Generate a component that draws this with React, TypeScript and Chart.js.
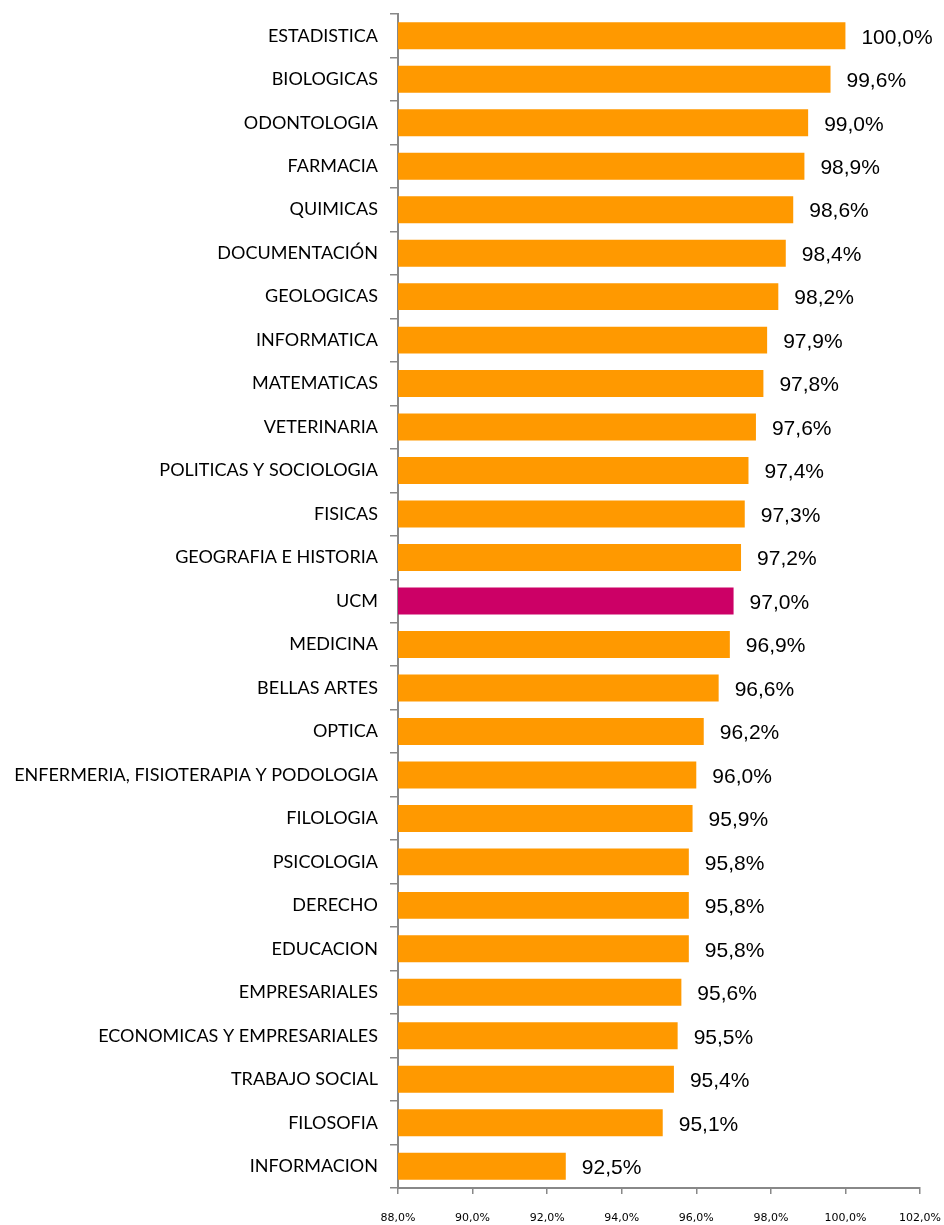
import React, { useEffect, useRef } from "react";
import { Chart, registerables } from "chart.js";

Chart.register(...registerables);

const categories = [
  "ESTADISTICA", "BIOLOGICAS", "ODONTOLOGIA", "FARMACIA", "QUIMICAS", "DOCUMENTACIÓN",
  "GEOLOGICAS", "INFORMATICA", "MATEMATICAS", "VETERINARIA", "POLITICAS Y SOCIOLOGIA",
  "FISICAS", "GEOGRAFIA E HISTORIA", "UCM", "MEDICINA", "BELLAS ARTES", "OPTICA",
  "ENFERMERIA, FISIOTERAPIA Y PODOLOGIA", "FILOLOGIA", "PSICOLOGIA", "DERECHO",
  "EDUCACION", "EMPRESARIALES", "ECONOMICAS Y EMPRESARIALES", "TRABAJO SOCIAL",
  "FILOSOFIA", "INFORMACION",
];

const values = [
  100.0, 99.6, 99.0, 98.9, 98.6, 98.4, 98.2, 97.9, 97.8, 97.6, 97.4, 97.3, 97.2, 97.0,
  96.9, 96.6, 96.2, 96.0, 95.9, 95.8, 95.8, 95.8, 95.6, 95.5, 95.4, 95.1, 92.5,
];

const highlightCategory = "UCM";
const xMin = 88;
const xMax = 102;
const xStep = 2;

const fmt = (v: number, d: number) => v.toFixed(d).replace(".", ",") + "%";

const valueLabels = {
  id: "valueLabels",
  afterDatasetsDraw(chart: any) {
    const ctx = chart.ctx;
    const meta = chart.getDatasetMeta(0);
    ctx.save();
    ctx.font = "21px 'Liberation Sans', Arial, sans-serif";
    ctx.fillStyle = "#000";
    ctx.textAlign = "left";
    ctx.textBaseline = "middle";
    meta.data.forEach((bar: any, i: number) => {
      ctx.fillText(fmt(values[i], 1), bar.x + 16, bar.y + 2);
    });
    ctx.restore();
  },
};

export default function App() {
  const ref = useRef<HTMLCanvasElement>(null);
  useEffect(() => {
    if (!ref.current) return;
    const chart = new Chart(ref.current, {
      type: "bar",
      data: {
        labels: categories,
        datasets: [
          {
            data: values,
            backgroundColor: categories.map((c) => (c === highlightCategory ? "#CC0066" : "#FF9900")),
            barPercentage: 0.62,
            categoryPercentage: 1,
            borderWidth: 0,
          },
        ],
      },
      options: {
        indexAxis: "y",
        animation: false,
        responsive: false,
        layout: { padding: { top: 14, right: 24, left: 0, bottom: 0 } },
        plugins: { legend: { display: false }, tooltip: { enabled: false } },
        scales: {
          x: {
            min: xMin,
            max: xMax,
            ticks: {
              stepSize: xStep,
              callback: (v: any) => fmt(Number(v), 1),
              font: { family: "'DejaVu Sans', Verdana, sans-serif", size: 11 },
              color: "#000",
              padding: 18,
              maxRotation: 0,
            },
            grid: { drawOnChartArea: false, tickLength: 6, color: "#888", lineWidth: 1.5 },
            border: { color: "#888", width: 2 },
            afterFit: (s: any) => {
              s.height = 37;
              s.paddingLeft = 0;
              s.paddingRight = 0;
            },
          },
          y: {
            ticks: {
              font: { family: "Lato, 'Open Sans', sans-serif", size: 18 },
              color: "#000",
              padding: 12,
              autoSkip: false,
            },
            grid: { drawOnChartArea: false, tickLength: 8, color: "#888", lineWidth: 1.5, offset: true },
            border: { color: "#888", width: 2 },
            afterFit: (s: any) => {
              s.width = 398;
              s.paddingTop = 0;
              s.paddingBottom = 0;
            },
          },
        },
      },
      plugins: [valueLabels],
    });
    return () => chart.destroy();
  }, []);
  return (
    <div style={{ position: "fixed", left: 0, top: 0, width: 944, height: 1225, background: "#fff" }}>
      <canvas ref={ref} width={944} height={1225} style={{ display: "block" }} />
    </div>
  );
}
